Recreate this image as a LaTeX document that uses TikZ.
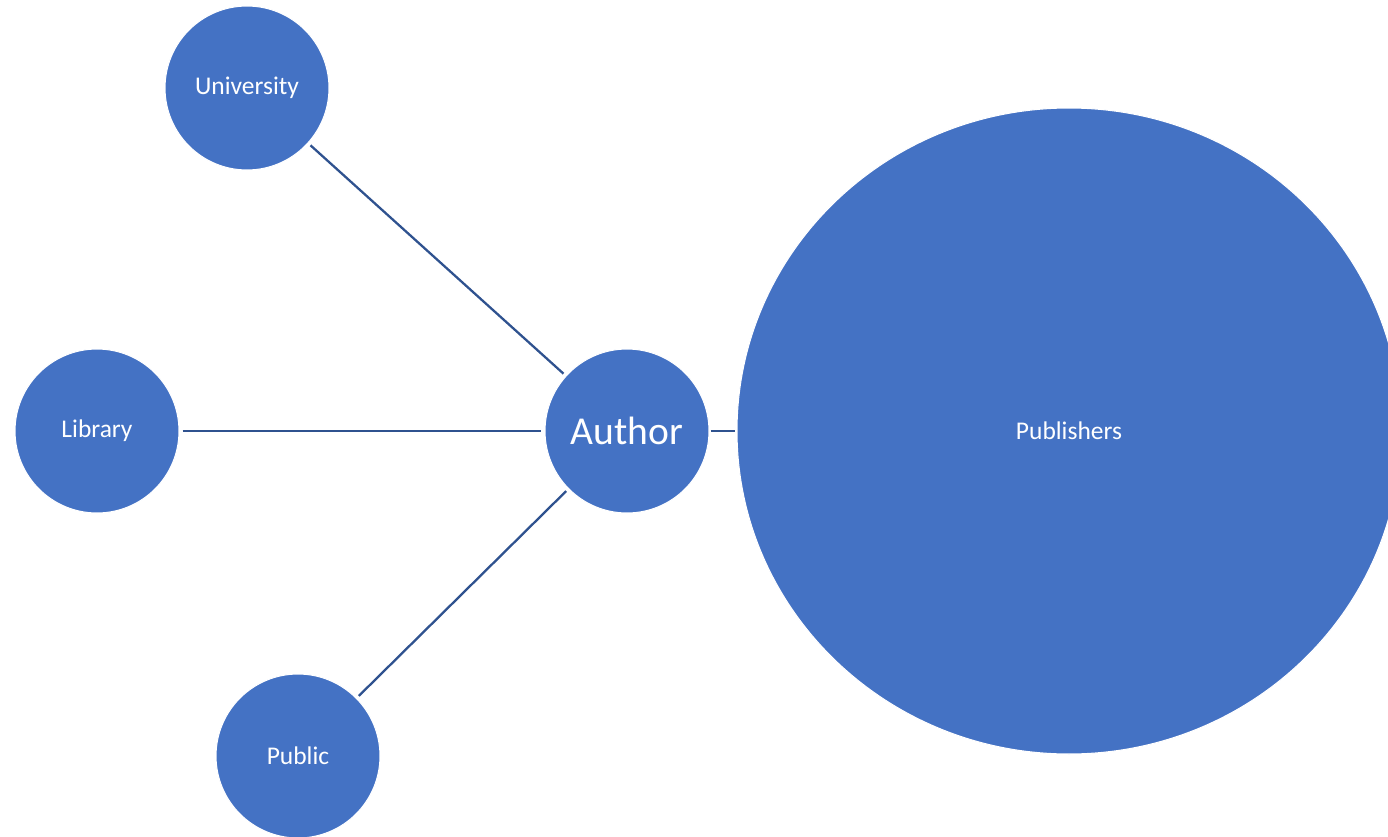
\documentclass[tikz,border=0pt]{standalone}
\usepackage{fontspec}
\setsansfont{Carlito}
\usetikzlibrary{
  positioning,
  shapes.geometric
}
\definecolor{nodeblue}{HTML}{4472C4}
\definecolor{linkblue}{HTML}{2F528F}

\begin{document}
\begin{tikzpicture}[
  every node/.style={font=\sffamily},
  actor/.style={draw=white, line width=0.6pt, circle, fill=nodeblue, text=white, minimum size=3.28cm, inner sep=0pt, font=\sffamily\fontsize{14.5}{16}\selectfont},
  hub/.style={actor, font=\sffamily\fontsize{22.5}{24}\selectfont},
  market/.style={draw=white, line width=0.6pt, ellipse, fill=nodeblue, text=white, minimum width=13.28cm, minimum height=12.92cm, inner sep=0pt, font=\sffamily\fontsize{14.5}{16}\selectfont},
  link/.style={draw=linkblue, line width=1.3pt, shorten >=0.06cm, shorten <=0.06cm}
]
\useasboundingbox (0,0) rectangle (27.76,-16.74);
\clip (0,0) rectangle (27.76,-16.74);

% Author in the middle
\node[hub] (author) at (12.54,-8.62) {Author};

% Readers round it
\node[actor] (university) at (4.94,-1.76) {University};
\node[actor] (library) at (1.94,-8.62) {Library};
\node[actor] (public) at (5.96,-15.12) {Public};

% Publishers
\node[market] (publishers) at (21.38,-8.62) {Publishers};

% Links
\draw[link] (university) -- (author);
\draw[link] (library) -- (author);
\draw[link] (public) -- (author);
\draw[link, shorten >=0.02cm, shorten <=0.02cm] (author) -- (publishers);

\end{tikzpicture}
\end{document}
